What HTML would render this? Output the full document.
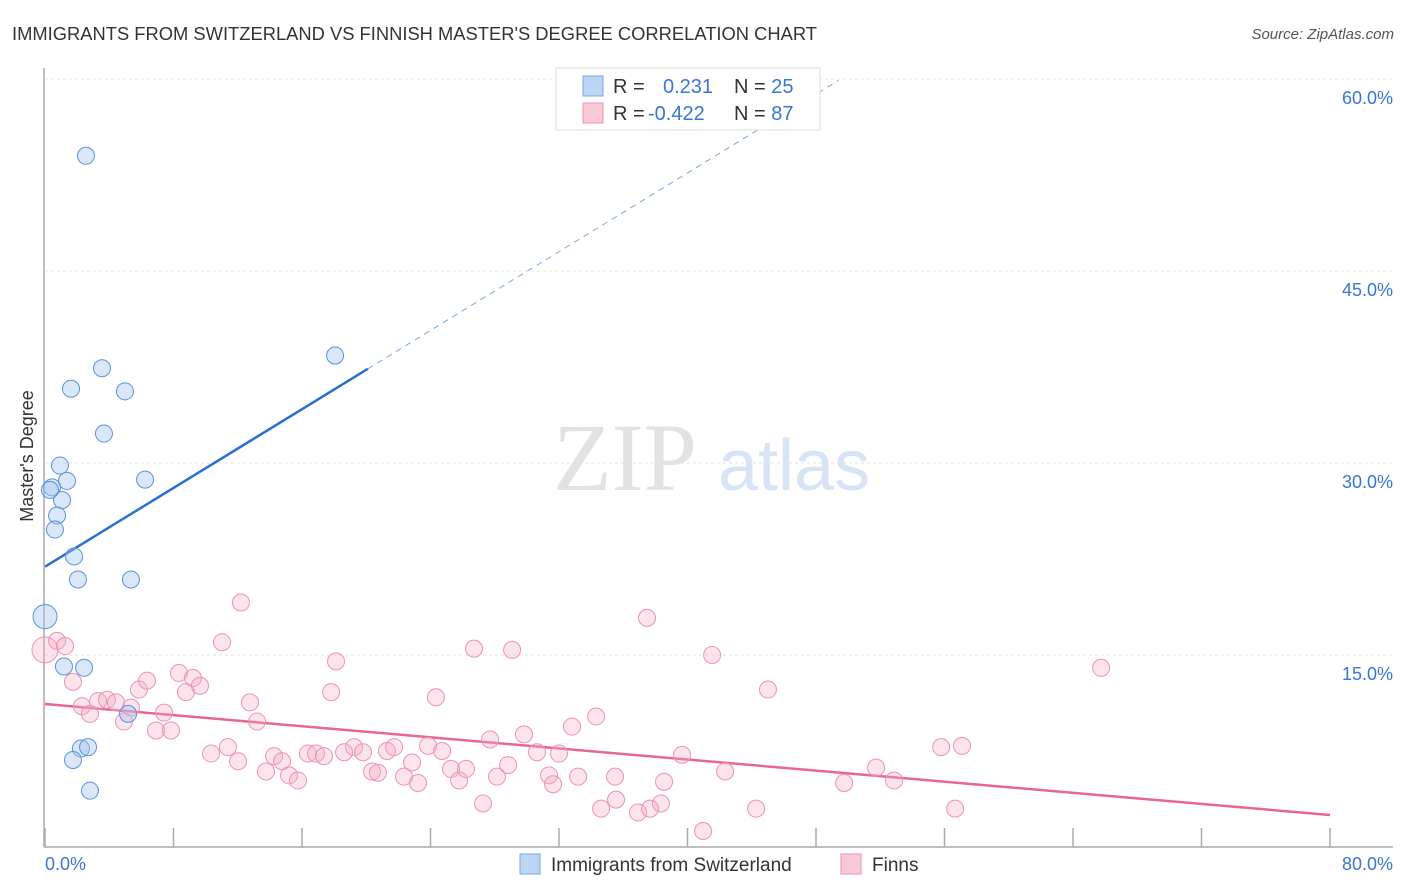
<!DOCTYPE html>
<html><head><meta charset="utf-8"><style>
body{margin:0;background:#fff;font-family:"Liberation Sans",sans-serif;}
svg{display:block}
</style></head><body>
<svg id="chart" width="1406" height="892">
<text x="12" y="40" font-size="18" fill="#333" textLength="805" lengthAdjust="spacingAndGlyphs">IMMIGRANTS FROM SWITZERLAND VS FINNISH MASTER'S DEGREE CORRELATION CHART</text>
<text x="1394" y="39" font-size="15" fill="#555" font-style="italic" text-anchor="end">Source: ZipAtlas.com</text>
<g>
<text x="553" y="490" font-size="96" font-family="Liberation Serif,serif" fill="#e2e2e2">ZIP</text>
<text x="718" y="490" font-size="72" fill="#d6e4f5">atlas</text>
</g>
<g id="grid"></g>
<g id="axes"></g>
<g id="lines"></g>
<g id="pts"></g>
<text x="33" y="456" font-size="18" fill="#333" text-anchor="middle" transform="rotate(-90 33 456)">Master's Degree</text>
<g>
<rect x="556" y="68" width="264" height="62" fill="#fff" stroke="#ddd"/>
<rect x="583" y="76" width="20" height="20" fill="#bcd5f5" stroke="#7aa6e0"/>
<rect x="583" y="103" width="20" height="20" fill="#f9c9d8" stroke="#eb93b0"/>
<text x="613" y="93" font-size="20" fill="#333">R = <tspan fill="#3a76d4" x="663">0.231</tspan><tspan x="734" fill="#333">N = </tspan><tspan fill="#3a76d4">25</tspan></text>
<text x="613" y="120" font-size="20" fill="#333">R = <tspan fill="#3a76d4" x="648">-0.422</tspan><tspan x="734" fill="#333">N = </tspan><tspan fill="#3a76d4">87</tspan></text>
</g>
<g>
<rect x="520" y="854" width="20" height="20" fill="#bcd5f5" stroke="#7aa6e0"/>
<text x="551" y="871" font-size="19" fill="#333">Immigrants from Switzerland</text>
<rect x="841" y="854" width="20" height="20" fill="#f9c9d8" stroke="#eb93b0"/>
<text x="872" y="871" font-size="19" fill="#333">Finns</text>
</g>
</svg>
<script>
const yTicks=[15,30,45,60];
const yTickLabels=["15.0%","30.0%","45.0%","60.0%"];
const xTicks=[0,8,16,24,32,40,48,56,64,72,80];
const xTickLabels=["0.0%","80.0%"];
const blueX=[2.55,3.55,1.62,4.98,3.67,0.93,6.23,1.37,0.44,1.06,0.75,0.62,1.81,2.05,5.35,0,1.18,2.43,5.17,2.24,2.68,1.74,2.80,18.06,0.31];
const blueY=[54.0,37.4,35.8,35.6,32.3,29.8,28.7,28.6,28.1,27.1,25.9,24.8,22.7,20.9,20.9,18.0,14.1,14.0,10.4,7.7,7.8,6.8,4.4,38.4,27.9];
const pinkX=[0,0.75,1.25,1.74,2.30,2.80,3.30,3.86,4.42,4.92,5.35,5.85,6.35,6.91,7.41,7.84,8.34,8.78,9.21,9.65,10.34,11.02,11.39,12.02,12.20,12.76,13.20,13.76,14.26,14.76,15.19,15.75,16.37,16.87,17.37,17.81,18.12,18.62,19.24,19.80,20.36,20.73,21.29,21.73,22.35,22.85,23.22,23.85,24.34,24.72,25.28,25.78,26.21,26.71,27.27,27.71,28.14,28.83,29.08,29.82,30.63,31.38,31.63,32.00,32.81,33.19,34.31,34.62,35.49,35.55,36.92,37.48,37.67,38.35,38.54,39.66,40.97,41.53,42.34,44.27,45.01,49.75,51.74,52.86,55.79,56.66,57.09,65.75];
const pinkY=[15.4,16.1,15.7,12.9,11.0,10.4,11.4,11.5,11.3,9.8,10.9,12.3,13.0,9.1,10.5,9.1,13.6,12.1,13.2,12.6,7.3,16.0,7.8,6.7,19.1,11.3,9.8,5.9,7.1,6.7,5.6,5.2,7.3,7.3,7.1,12.1,14.5,7.4,7.8,7.4,5.9,5.8,7.5,7.8,5.5,6.6,5.0,7.9,11.7,7.5,6.1,5.2,6.1,15.5,3.4,8.4,5.5,6.4,15.4,8.8,7.4,5.6,4.9,7.3,9.4,5.5,10.2,3.0,5.5,3.7,2.7,17.9,3.0,3.4,5.1,7.2,1.25,15.0,5.9,3.0,12.3,5.0,6.2,5.2,7.8,3.0,7.9,14.0];
const blueTrend=[21.9,0.769];
const pinkTrend=[11.17,-0.1084];
const NS='http://www.w3.org/2000/svg';
const X=v=>45+v*(1285/80);
const Y=v=>847-v*(192/15);
function mk(tag,attrs,parent){const e=document.createElementNS(NS,tag);for(const k in attrs)e.setAttribute(k,attrs[k]);document.getElementById(parent).appendChild(e);return e;}
yTicks.forEach((t,i)=>{
 const g=mk('line',{x1:45,x2:1393,y1:Y(t),y2:Y(t),stroke:'#e2e2e2','stroke-dasharray':'3,3'},'grid');
 
 
 const l=mk('text',{x:1393,y:Y(t)+25,'font-size':18,fill:'#3a76d4','text-anchor':'end'},'grid');
 l.textContent=yTickLabels[i];
 
 
});
const ax=mk('line',{x1:44,x2:44,y1:68,y2:847,stroke:'#aaa','stroke-width':1.5},'axes');


const bx=mk('line',{x1:44,x2:1393,y1:847,y2:847,stroke:'#aaa','stroke-width':1.5},'axes');


xTicks.forEach(t=>{
 const k=mk('line',{x1:X(t),x2:X(t),y1:828,y2:847,stroke:'#aaa','stroke-width':1.5},'axes');
 
 
});
const xl0=mk('text',{x:45,y:870,'font-size':18,fill:'#3a76d4'},'axes');xl0.textContent=xTickLabels[0];


const xl1=mk('text',{x:1393,y:870,'font-size':18,fill:'#3a76d4','text-anchor':'end'},'axes');xl1.textContent=xTickLabels[1];


pinkX.forEach((v,i)=>{
 const c=mk('circle',{cx:X(v),cy:Y(pinkY[i]),r:i===0?13:8.5,fill:'rgba(246,170,196,0.33)',stroke:'#ec94b2','stroke-width':1},'pts');
 
 
});
blueX.forEach((v,i)=>{
 const c=mk('circle',{cx:X(v),cy:Y(blueY[i]),r:i===15?12:8.5,fill:'rgba(160,196,240,0.4)',stroke:'#5b93dd','stroke-width':1},'pts');
 
 
});
const bx2=20.1, bEnd=49.4;
const b1=mk('line',{x1:X(0),y1:Y(blueTrend[0]),x2:X(bx2),y2:Y(blueTrend[0]+blueTrend[1]*bx2),stroke:'#2a6fd4','stroke-width':2.5},'lines');


const b2=mk('line',{x1:X(bx2),y1:Y(blueTrend[0]+blueTrend[1]*bx2),x2:X(bEnd),y2:Y(blueTrend[0]+blueTrend[1]*bEnd),stroke:'#7aa6e0','stroke-width':1,'stroke-dasharray':'6,5'},'lines');


const p1=mk('line',{x1:X(0),y1:Y(pinkTrend[0]),x2:X(80),y2:Y(pinkTrend[0]+pinkTrend[1]*80),stroke:'#e8659a','stroke-width':2.5},'lines');


</script>
</body></html>
